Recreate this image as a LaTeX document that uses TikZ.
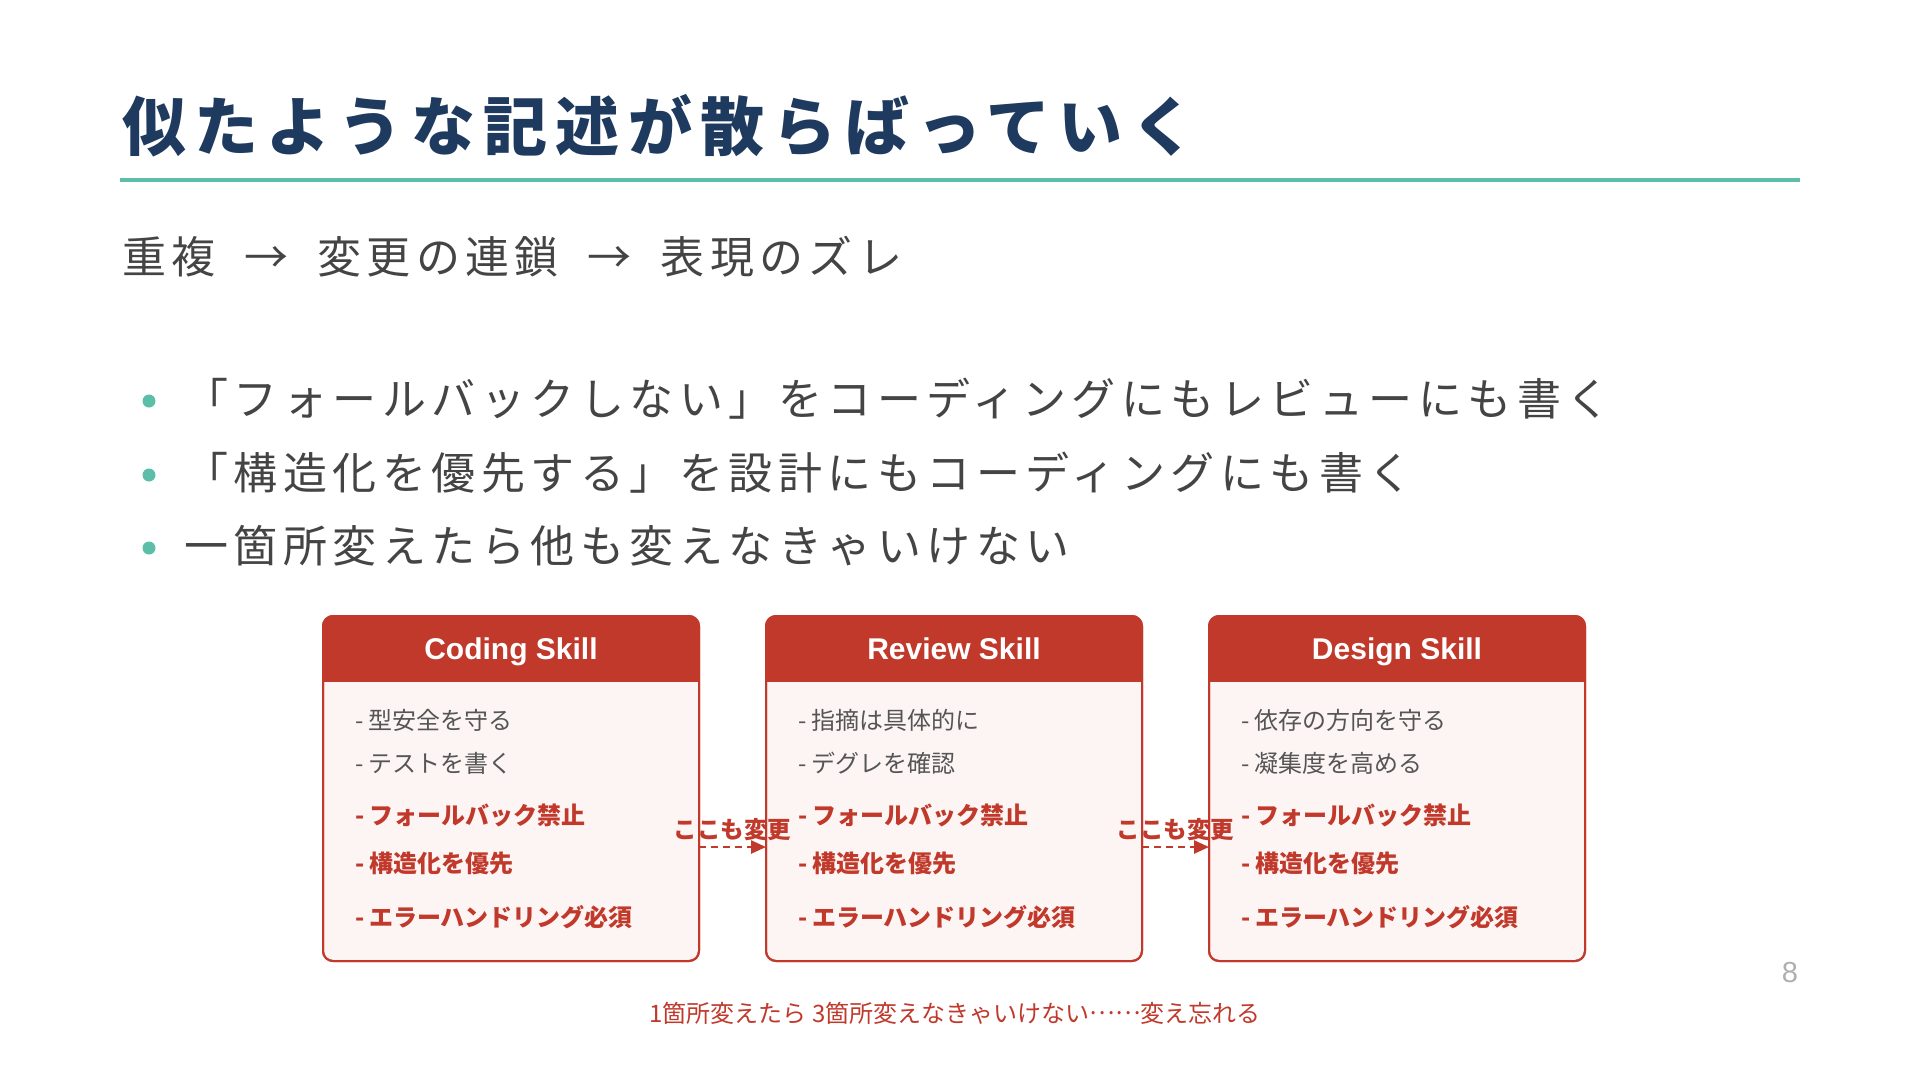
\documentclass[tikz,border=0pt]{standalone}
\usepackage{fontspec}
\setmainfont{Noto Sans CJK JP}
\newfontfamily\jp{Noto Sans CJK JP}
\newfontfamily\jpfw[RawFeature=+fwid]{Noto Sans CJK JP}
\newfontfamily\jptitle[LetterSpace=13]{Noto Sans CJK JP}
\newfontfamily\jpsub[LetterSpace=12]{Noto Sans CJK JP}
\newfontfamily\jpsp[LetterSpace=12.5]{Noto Sans CJK JP}
\newfontfamily\hdr{Liberation Sans}
\usetikzlibrary{arrows.meta,calc}
\definecolor{titlenavy}{RGB}{31,58,95}
\definecolor{tealc}{RGB}{92,190,168}
\definecolor{textgray}{RGB}{68,68,68}
\definecolor{skred}{RGB}{192,57,43}
\definecolor{boxpink}{RGB}{253,245,244}
\definecolor{bodygray}{RGB}{85,85,85}
\definecolor{pagegray}{RGB}{175,175,175}
\tikzset{
  skillbox/.style={rectangle, draw=skred, line width=2pt, rounded corners=10pt, fill=boxpink, minimum width=376pt, minimum height=345pt},
  hdrtext/.style={anchor=base, font=\hdr\bfseries\fontsize{30}{33}\selectfont, text=white},
  grayitem/.style={anchor=west, font=\jp\fontsize{24}{28}\selectfont, text=bodygray},
  reditem/.style={anchor=west, font=\jp\bfseries\fontsize{24}{28}\selectfont, text=skred},
  changelbl/.style={font=\jp\bfseries\fontsize{23.5}{28}\selectfont, text=skred},
  changearrow/.style={draw=skred, line width=2.5pt, dash pattern=on 7pt off 5pt, -{Triangle[length=15pt,width=13pt]}},
  bullettext/.style={anchor=west, font=\jpsp\fontsize{44}{50}\selectfont, text=textgray},
  bulletdot/.style={circle, fill=tealc, minimum size=13pt},
}
\newcommand\mkskill[5]{%
  \node[skillbox] (#1) at (#2,788.5) {};
  \begin{scope}
    \clip[rounded corners=10pt] (#1.north west) rectangle (#1.south east);
    \fill[skred] (#1.north west) rectangle ($(#1.north east)+(0,66)$);
  \end{scope}
  \draw[skred, line width=2pt, rounded corners=10pt] (#1.north west) rectangle (#1.south east);
  \node[hdrtext] (#1h) at ($(#1.north)+(0,43.5)$) {#3};
  \node[grayitem] (#1i1) at ($(#1.north west)+(32,104)$) {-\hspace{5pt}#4};
  \node[grayitem] (#1i2) at ($(#1.north west)+(32,147)$) {-\hspace{5pt}#5};
  \node[reditem] (#1i3) at ($(#1.north west)+(32,199)$) {-\hspace{5pt}フォールバック禁止};
  \node[reditem] (#1i4) at ($(#1.north west)+(32,247)$) {-\hspace{5pt}構造化を優先};
  \node[reditem] (#1i5) at ($(#1.north west)+(32,301)$) {-\hspace{5pt}エラーハンドリング必須};
}
\begin{document}
\begin{tikzpicture}[x=1pt,y=-1pt, every node/.style={inner sep=0pt, outer sep=0pt}]
\useasboundingbox (0,0) rectangle (1920,1080);
\fill[white] (0,0) rectangle (1920,1080);

% title
\node[anchor=west, text=titlenavy, font=\jptitle\bfseries\fontsize{64}{70}\selectfont] (title) at (122,126) {似たような記述が散らばっていく};
\coordinate (ruleL) at (120,180);
\coordinate (ruleR) at (1800,180);
\draw[tealc, line width=4pt] (ruleL) -- (ruleR);

% subtitle
\node[anchor=west, text=textgray, font=\jpsub\fontsize{44}{50}\selectfont] (sub) at (122,257) {重複\hspace{14pt} → \hspace{14pt}変更の連鎖\hspace{14pt} → \hspace{14pt}表現のズレ};

% bullets
\node[bulletdot] (d1) at (149,401) {};
\node[bullettext] (t1) at (184,399) {「フォールバックしない」をコーディングにもレビューにも書く};
\node[bulletdot] (d2) at (149,475) {};
\node[bullettext] (t2) at (184,473) {「構造化を優先する」を設計にもコーディングにも書く};
\node[bulletdot] (d3) at (149,548) {};
\node[bullettext] (t3) at (184,546) {一箇所変えたら他も変えなきゃいけない};

% skill boxes
\mkskill{c1}{511}{Coding Skill}{型安全を守る}{テストを書く}
\mkskill{c2}{954}{Review Skill}{指摘は具体的に}{デグレを確認}
\mkskill{c3}{1397}{Design Skill}{依存の方向を守る}{凝集度を高める}

% change arrows
\draw[changearrow] ($(c1.east)+(0,58.5)$) -- ($(c2.west)+(0,58.5)$);
\draw[changearrow] ($(c2.east)+(0,58.5)$) -- ($(c3.west)+(0,58.5)$);
\node[changelbl] (l1) at ($(c1.east)!0.5!(c2.west)+(0,41.5)$) {ここも変更};
\node[changelbl] (l2) at ($(c2.east)!0.5!(c3.west)+(0,41.5)$) {ここも変更};

% caption
\node[font=\jp\fontsize{24}{28}\selectfont, text=skred] (cap) at (955,1013) {1箇所変えたら 3箇所変えなきゃいけない\raisebox{0.3em}{\jpfw ……}変え忘れる};

% page number
\node[font=\hdr\fontsize{29}{32}\selectfont, text=pagegray] (pg) at (1790,973) {8};
\end{tikzpicture}
\end{document}
